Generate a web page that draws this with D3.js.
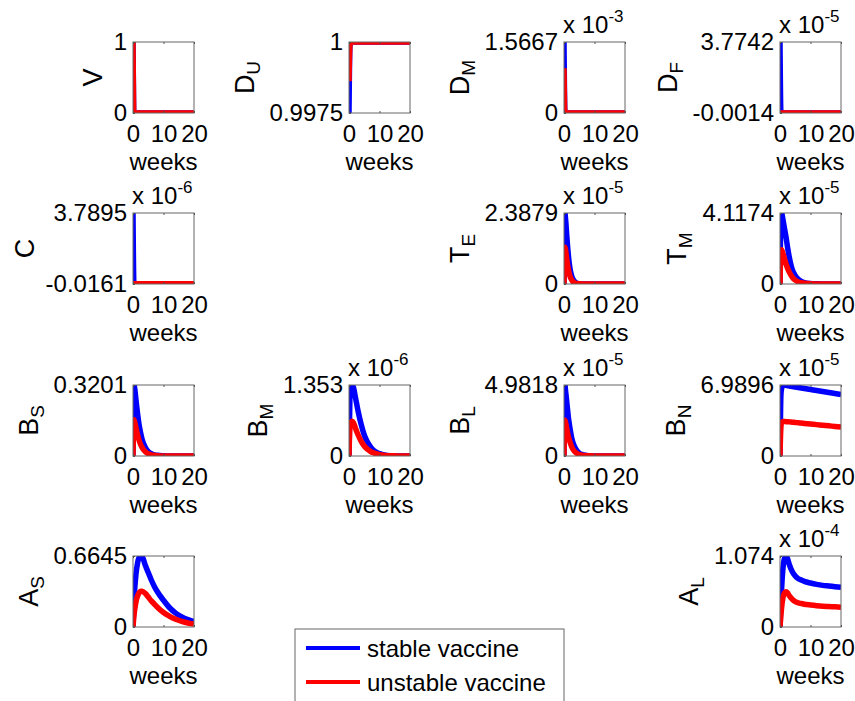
<!DOCTYPE html>
<html>
<head>
  <meta charset="UTF-8" />
  <title>Stable vs unstable vaccine</title>
  <style>
    body {
      margin: 0;
      background: #fff;
      font-family: "Liberation Sans", Arial, sans-serif;
    }
    .axis text {
      font-family: "Liberation Sans", Arial, sans-serif;
      font-size: 24px;
      fill: #000;
    }
    .axis line {
      stroke: #555;
    }
  </style>
</head>
<body>
<svg id="chart" width="855" height="701"></svg>
<script src="https://d3js.org/d3.v7.min.js"></script>
<script>
  // time grid (weeks)
  const weeks = [0, 0.3, 0.5, 1, 1.5, 2, 2.5, 3, 4, 5, 6, 7, 8, 10, 12, 14, 16, 18, 20];
  const xTicks = [0, 10, 20];
  const seriesNames = ["stable vaccine", "unstable vaccine"];

  // values, in the units of each panel's y axis
  const vStable    = [1, 0.01, 0, 0, 0, 0, 0, 0, 0, 0, 0, 0, 0, 0, 0, 0, 0, 0, 0];
  const vUnstable  = [1, 0.01, 0, 0, 0, 0, 0, 0, 0, 0, 0, 0, 0, 0, 0, 0, 0, 0, 0];
  const duStable   = [0.9975, 0.99985, 0.99995, 1, 1, 1, 1, 1, 1, 1, 1, 1, 1, 1, 1, 1, 1, 1, 1];
  const duUnstable = [0.99862, 0.99985, 0.99995, 1, 1, 1, 1, 1, 1, 1, 1, 1, 1, 1, 1, 1, 1, 1, 1];
  const dmStable   = [1.5667, 0.03, 0.005, 0, 0, 0, 0, 0, 0, 0, 0, 0, 0, 0, 0, 0, 0, 0, 0];
  const dmUnstable = [0.987, 0.02, 0.003, 0, 0, 0, 0, 0, 0, 0, 0, 0, 0, 0, 0, 0, 0, 0, 0];
  const dfStable   = [3.7742, 0.02, 0, 0, 0, 0, 0, 0, 0, 0, 0, 0, 0, 0, 0, 0, 0, 0, 0];
  const dfUnstable = [0, 0, 0, 0, 0, 0, 0, 0, 0, 0, 0, 0, 0, 0, 0, 0, 0, 0, 0];
  const cStable    = [3.7895, 0.02, 0, 0, 0, 0, 0, 0, 0, 0, 0, 0, 0, 0, 0, 0, 0, 0, 0];
  const cUnstable  = [0, 0, 0, 0, 0, 0, 0, 0, 0, 0, 0, 0, 0, 0, 0, 0, 0, 0, 0];
  const teStable   = [0, 2.3879, 2.2, 1.5, 0.9, 0.5, 0.28, 0.15, 0.04, 0.01, 0, 0, 0, 0, 0, 0, 0, 0, 0];
  const teUnstable = [0, 1.24, 1.15, 0.75, 0.45, 0.25, 0.14, 0.07, 0.02, 0.005, 0, 0, 0, 0, 0, 0, 0, 0, 0];
  const tmStable   = [0, 3.9, 4.1174, 3.7, 3.2, 2.7, 2.1, 1.6, 0.85, 0.48, 0.27, 0.15, 0.08, 0.025, 0.008, 0, 0, 0, 0];
  const tmUnstable = [0, 1.9, 1.98, 1.75, 1.45, 1.15, 0.9, 0.7, 0.4, 0.22, 0.12, 0.07, 0.04, 0.012, 0.004, 0, 0, 0, 0];
  const bsStable   = [0, 0.3201, 0.31, 0.25, 0.19, 0.14, 0.105, 0.075, 0.04, 0.02, 0.01, 0.005, 0.003, 0.001, 0, 0, 0, 0, 0];
  const bsUnstable = [0, 0.163, 0.155, 0.125, 0.095, 0.07, 0.052, 0.038, 0.02, 0.01, 0.005, 0.003, 0.001, 0, 0, 0, 0, 0, 0];
  const bmStable   = [0, 1.15, 1.3, 1.353, 1.3, 1.15, 1.0, 0.85, 0.6, 0.4, 0.27, 0.18, 0.11, 0.045, 0.015, 0.005, 0, 0, 0];
  const bmUnstable = [0, 0.55, 0.62, 0.66, 0.63, 0.55, 0.47, 0.4, 0.28, 0.19, 0.13, 0.09, 0.06, 0.025, 0.01, 0.004, 0, 0, 0];
  const blStable   = [0, 4.9818, 4.6, 3.6, 2.6, 1.9, 1.3, 0.9, 0.45, 0.2, 0.1, 0.05, 0.02, 0.005, 0, 0, 0, 0, 0];
  const blUnstable = [0, 2.5, 2.35, 1.8, 1.3, 0.95, 0.65, 0.45, 0.22, 0.1, 0.05, 0.025, 0.01, 0.002, 0, 0, 0, 0, 0];
  const bnStable   = [0, 6.0, 6.6, 6.9896, 6.97, 6.95, 6.92, 6.9, 6.85, 6.8, 6.75, 6.7, 6.65, 6.55, 6.45, 6.35, 6.25, 6.15, 6.05];
  const bnUnstable = [0, 2.9, 3.25, 3.4, 3.39, 3.38, 3.37, 3.36, 3.33, 3.3, 3.27, 3.24, 3.21, 3.15, 3.09, 3.03, 2.97, 2.91, 2.85];
  const asStable   = [0, 0.22, 0.33, 0.5, 0.6, 0.65, 0.6645, 0.66, 0.58, 0.51, 0.44, 0.38, 0.33, 0.25, 0.18, 0.13, 0.095, 0.07, 0.05];
  const asUnstable = [0, 0.1, 0.15, 0.24, 0.29, 0.32, 0.335, 0.335, 0.315, 0.28, 0.245, 0.215, 0.185, 0.135, 0.1, 0.072, 0.052, 0.037, 0.027];
  const alStable   = [0, 0.35, 0.55, 0.9, 1.04, 1.074, 1.03, 0.95, 0.84, 0.77, 0.73, 0.71, 0.69, 0.665, 0.645, 0.63, 0.62, 0.61, 0.6];
  const alUnstable = [0, 0.18, 0.28, 0.45, 0.52, 0.535, 0.515, 0.475, 0.42, 0.385, 0.365, 0.355, 0.345, 0.333, 0.323, 0.315, 0.31, 0.305, 0.3];

  // panel labels, y tick labels (min, max) and exponent of the "x 10^n" note
  const labelMain  = ["V", "D", "D", "D", "C", "T", "T", "B", "B", "B", "B", "A", "A"];
  const labelSub   = ["", "U", "M", "F", "", "E", "M", "S", "M", "L", "N", "S", "L"];
  const yTickLabels = [
    ["0", "1"], ["0.9975", "1"], ["0", "1.5667"], ["-0.0014", "3.7742"],
    ["-0.0161", "3.7895"], ["0", "2.3879"], ["0", "4.1174"],
    ["0", "0.3201"], ["0", "1.353"], ["0", "4.9818"], ["0", "6.9896"],
    ["0", "0.6645"], ["0", "1.074"]
  ];
  const exponents = [null, null, -3, -5, -6, -5, -5, null, -6, -5, -5, null, -4];
  const stableData   = [vStable, duStable, dmStable, dfStable, cStable, teStable, tmStable,
                        bsStable, bmStable, blStable, bnStable, asStable, alStable];
  const unstableData = [vUnstable, duUnstable, dmUnstable, dfUnstable, cUnstable, teUnstable, tmUnstable,
                        bsUnstable, bmUnstable, blUnstable, bnUnstable, asUnstable, alUnstable];
  const gridRow = [0, 0, 0, 0, 1, 1, 1, 2, 2, 2, 2, 3, 3];
  const gridCol = [0, 1, 2, 3, 0, 2, 3, 0, 1, 2, 3, 0, 3];

  // layout
  const colLeft = [133, 349, 564, 780];
  const rowTop = [42, 213, 385, 556];
  const boxW = 61, boxH = 71;
  const colors = ["#0000ff", "#ff0000"];

  const svg = d3.select("#chart");
  svg.append("rect").attr("width", 855).attr("height", 701).attr("fill", "#fff");

  const x = d3.scaleLinear().domain([0, 20]).range([0, boxW]);

  labelMain.forEach((name, i) => {
    const g = svg.append("g")
      .attr("transform", `translate(${colLeft[gridCol[i]]},${rowTop[gridRow[i]]})`);

    const y = d3.scaleLinear()
      .domain([+yTickLabels[i][0], +yTickLabels[i][1]])
      .range([boxH, 0]);

    g.append("clipPath").attr("id", "clip" + i)
      .append("rect").attr("width", boxW).attr("height", boxH);

    const line = d3.line()
      .x((d, j) => x(weeks[j]))
      .y(d => y(d))
      .curve(d3.curveMonotoneX);

    [stableData[i], unstableData[i]].forEach((vals, k) => {
      g.append("path")
        .datum(vals)
        .attr("clip-path", `url(#clip${i})`)
        .attr("fill", "none")
        .attr("stroke", colors[k])
        .attr("stroke-width", 5.5)
        .attr("stroke-linejoin", "round")
        .attr("d", line);
    });

    // box
    g.append("rect")
      .attr("width", boxW).attr("height", boxH)
      .attr("fill", "none").attr("stroke", "#666").attr("stroke-width", 1);

    // x axis
    const xa = g.append("g").attr("class", "axis")
      .attr("transform", `translate(0,${boxH})`)
      .call(d3.axisBottom(x).tickValues(xTicks).tickSize(-2).tickPadding(12));
    xa.select(".domain").remove();
    xa.selectAll("text").attr("font-size", null).attr("font-family", null);

    g.append("g").attr("class", "axis")
      .call(d3.axisTop(x).tickValues(xTicks).tickSize(-2).tickFormat(""))
      .select(".domain").remove();

    // y axis: only min and max
    const ya = g.append("g").attr("class", "axis")
      .call(d3.axisLeft(y).tickValues(y.domain()).tickSize(-2).tickPadding(6)
        .tickFormat((d, j) => yTickLabels[i][j]));
    ya.select(".domain").remove();
    ya.selectAll("text").attr("font-size", null).attr("font-family", null);

    g.append("text")
      .attr("x", boxW / 2).attr("y", boxH + 57)
      .attr("text-anchor", "middle")
      .attr("font-size", 24)
      .text("weeks");

    if (exponents[i] !== null) {
      const ex = g.append("text")
        .attr("x", -1).attr("y", -9)
        .attr("font-size", 24);
      ex.append("tspan").text("x 10");
      ex.append("tspan").attr("font-size", 17).attr("dy", -11).text(exponents[i]);
    }

    // rotated y label left of the tick labels
    const lab = g.append("text")
      .attr("text-anchor", "middle")
      .attr("font-size", 27);
    lab.append("tspan").text(name);
    if (labelSub[i]) lab.append("tspan").attr("font-size", 19).attr("dy", 6).text(labelSub[i]);
    const bb = lab.node().getBBox();
    const tickLeft = ya.node().getBBox().x;
    const lx = tickLeft - 6 - (bb.y + bb.height);
    lab.attr("transform", `translate(${lx},${boxH / 2}) rotate(-90)`);
  });

  // legend
  const legend = svg.append("g").attr("transform", "translate(295,629)");
  legend.append("rect")
    .attr("width", 269).attr("height", 90)
    .attr("fill", "#fff").attr("stroke", "#666").attr("stroke-width", 1);
  seriesNames.forEach((s, k) => {
    const ly = 19 + k * 34;
    legend.append("line")
      .attr("x1", 11).attr("x2", 65).attr("y1", ly).attr("y2", ly)
      .attr("stroke", colors[k]).attr("stroke-width", 4);
    legend.append("text")
      .attr("x", 72).attr("y", ly)
      .attr("dominant-baseline", "central")
      .attr("font-size", 24)
      .text(s);
  });
</script>
</body>
</html>
